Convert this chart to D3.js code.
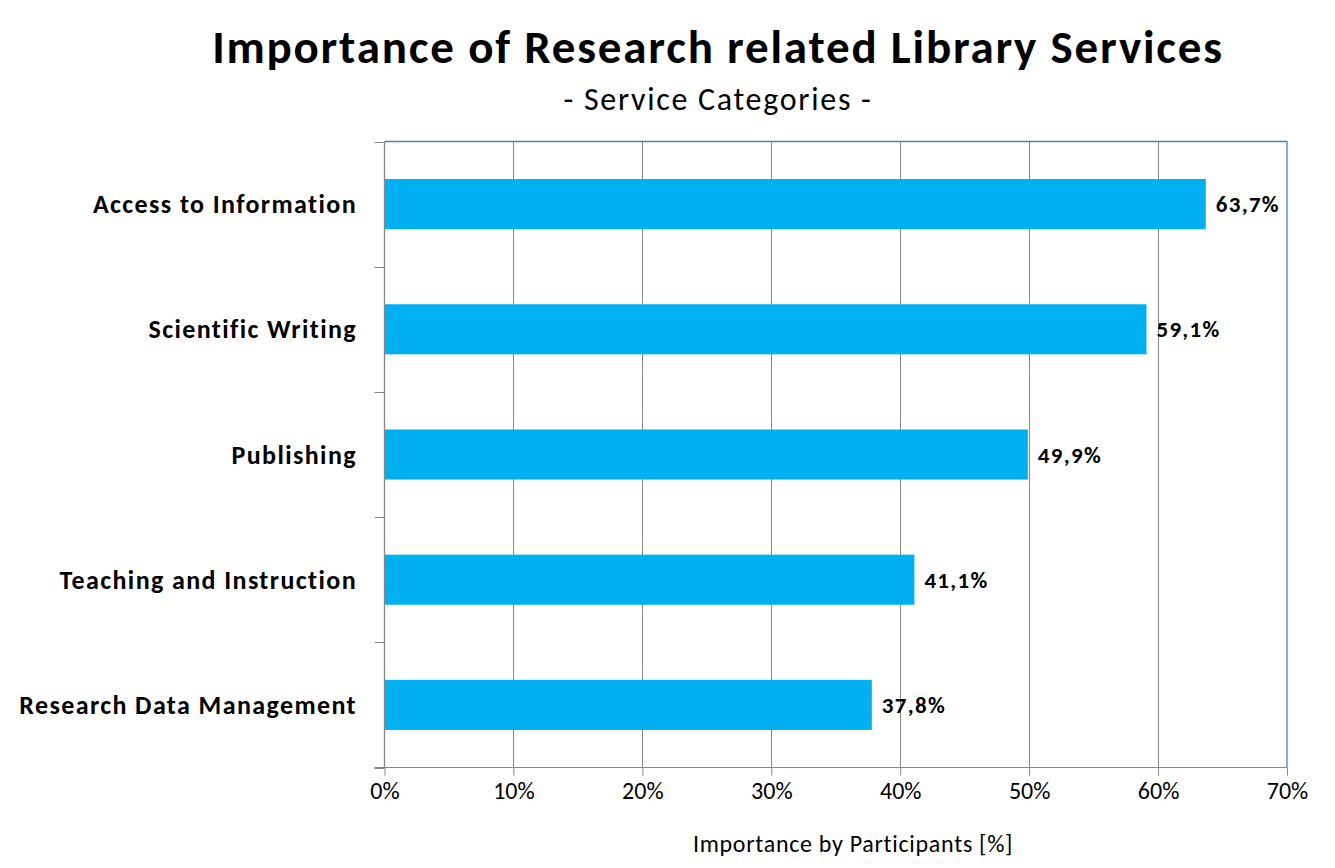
<!DOCTYPE html>
<html><head><meta charset="utf-8">
<script src="https://cdn.jsdelivr.net/npm/d3@7"></script>
<style>
body{margin:0;background:#fff;}
text{font-family:Carlito, Calibri, Lato, sans-serif;fill:#000;}
</style></head>
<body>
<svg id="chart" width="1335" height="868"></svg>
<script>
const categories = ["Access to Information","Scientific Writing","Publishing","Teaching and Instruction","Research Data Management"];
const values = [63.7, 59.1, 49.9, 41.1, 37.8];
const xTicks = [0,10,20,30,40,50,60,70];
const title = "Importance of Research related Library Services";
const subtitle = "- Service Categories -";
const xTitle = "Importance by Participants [%]";

const svg = d3.select("#chart");
const m = {left:384.5, right:1287, top:141.5, bottom:767.5};

const x = d3.scaleLinear().domain([0,70]).range([m.left, m.right]);
const y = d3.scaleBand().domain(categories).range([m.top, m.bottom]).paddingInner(0.6).paddingOuter(0.3);
const yb = d3.scaleLinear().domain([0, categories.length]).range([m.top, m.bottom]);

// gridlines
svg.append("g").selectAll("line").data(xTicks.slice(1, -1)).join("line")
  .attr("x1", d=>Math.round(x(d))+0.5).attr("x2", d=>Math.round(x(d))+0.5)
  .attr("y1", m.top).attr("y2", m.bottom)
  .attr("stroke","#868686").attr("stroke-width",1);

// plot border top/right
svg.append("path")
  .attr("d", `M${m.left},${m.top}H${m.right}V${m.bottom}`)
  .attr("fill","none").attr("stroke","#4F81BD").attr("stroke-width",1.3);

// bars
svg.append("g").selectAll("rect").data(values).join("rect")
  .attr("x", x(0)).attr("y", (d,i)=>y(categories[i]))
  .attr("width", d=>x(d)-x(0)).attr("height", y.bandwidth())
  .attr("fill","#00B0F0");

// x axis
const xAxis = d3.axisBottom(x).tickValues(xTicks).tickSize(8).tickSizeOuter(0).tickFormat(d=>d+"%");
const gx = svg.append("g").attr("transform",`translate(0,${m.bottom})`).call(xAxis);
gx.select(".domain").attr("stroke","#868686").attr("d", `M${m.left-10},0H${m.right}`);
gx.selectAll(".tick line").attr("stroke","#868686");
gx.selectAll(".tick text").attr("font-size",24).attr("dy",null).attr("y",31)
  .style("font-family","Carlito, Calibri, Lato, sans-serif").attr("fill","#000");

// y axis line and ticks
svg.append("line").attr("x1",m.left).attr("x2",m.left).attr("y1",m.top).attr("y2",m.bottom)
  .attr("stroke","#868686").attr("stroke-width",1.3);
svg.append("g").selectAll("line").data(d3.range(categories.length+1)).join("line")
  .attr("x1", m.left-10).attr("x2", m.left)
  .attr("y1", d=>Math.round(yb(d))+0.5).attr("y2", d=>Math.round(yb(d))+0.5)
  .attr("stroke","#868686");

// category labels
svg.append("g").selectAll("text").data(categories).join("text")
  .attr("x", 357).attr("y", d=>y(d)+y.bandwidth()/2)
  .attr("dy","0.35em").attr("text-anchor","end")
  .attr("font-size",26).attr("letter-spacing",1.4).attr("font-weight","bold").text(d=>d);

// value labels
svg.append("g").selectAll("text").data(values).join("text")
  .attr("x", d=>x(d)+10).attr("y", (d,i)=>y(categories[i])+y.bandwidth()/2)
  .attr("dy","0.35em").attr("font-size",23).attr("letter-spacing",1.3).attr("font-weight","bold")
  .text(d=>d.toFixed(1).replace(".",",")+"%");

// titles
svg.append("text").attr("x",718).attr("y",63).attr("text-anchor","middle")
  .attr("font-size",47).attr("letter-spacing",1.8).attr("font-weight","bold").text(title);
svg.append("text").attr("x",718).attr("y",110).attr("text-anchor","middle")
  .attr("font-size",32).attr("letter-spacing",1.7).text(subtitle);
svg.append("text").attr("x",853).attr("y",852).attr("text-anchor","middle")
  .attr("font-size",24).attr("letter-spacing",0.7).text(xTitle);
</script>
</body></html>
